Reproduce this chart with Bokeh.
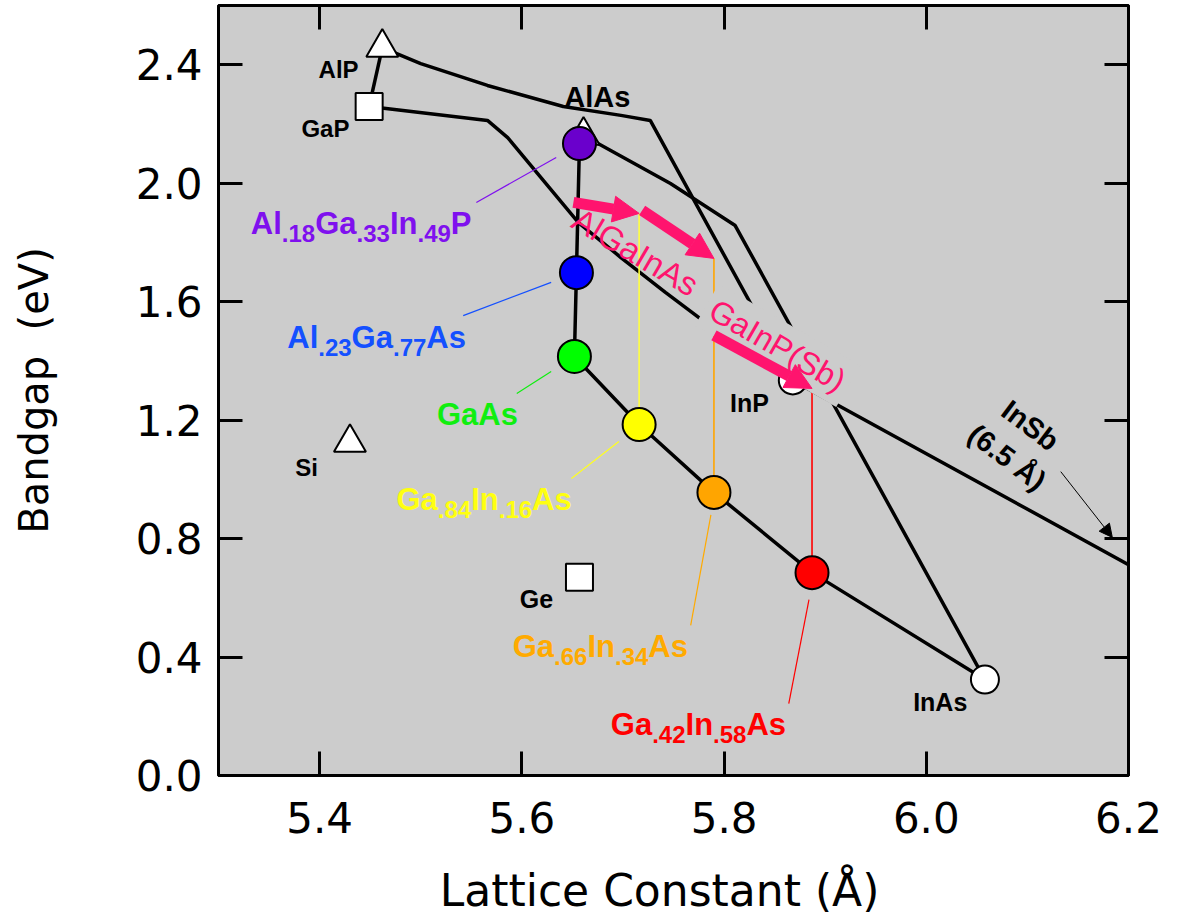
from bokeh.plotting import figure
from bokeh.models import (Range1d, LinearAxis, FixedTicker, PrintfTickFormatter,
                          ColumnDataSource, Arrow, NormalHead, Label)
from bokeh.core.properties import value
from bokeh.embed import file_html
from bokeh.resources import INLINE

# ---------------- data ----------------
# binary compounds: lattice constant (Å), bandgap (eV)
tri_names = ["AlP", "AlAs", "Si"]
tri_a = [5.462, 5.661, 5.430]
tri_eg = [2.458, 2.161, 1.124]
sq_names = ["GaP", "Ge"]
sq_a = [5.449, 5.657]
sq_eg = [2.259, 0.669]
circ_names = ["InP", "InAs"]
circ_a = [5.868, 6.058]
circ_eg = [1.334, 0.324]

# alloys (coloured circles)
alloy_a = [5.657, 5.654, 5.652, 5.716, 5.790, 5.887]
alloy_eg = [2.134, 1.698, 1.415, 1.185, 0.956, 0.685]

# boundary curves of the alloy systems
alp_gap_a = [5.462, 5.449]
alp_gap_eg = [2.458, 2.259]
alp_inp_a = [5.462, 5.500, 5.566, 5.641, 5.698, 5.727, 5.868]
alp_inp_eg = [2.458, 2.404, 2.330, 2.259, 2.229, 2.212, 1.334]
gap_insb_a = [5.449, 5.566, 5.586, 5.656, 5.698, 5.742, 5.787, 5.826, 5.868, 6.200]
gap_insb_eg = [2.259, 2.212, 2.154, 1.867, 1.749, 1.631, 1.516, 1.418, 1.334, 0.712]
alas_inas_a = [5.661, 5.747, 5.811, 6.058]
alas_inas_eg = [2.161, 1.999, 1.857, 0.324]
alas_gaas_a = [5.661, 5.657, 5.654, 5.652]
alas_gaas_eg = [2.161, 2.134, 1.698, 1.415]
gaas_inas_a = [5.652, 5.716, 5.790, 5.887, 6.058]
gaas_inas_eg = [1.415, 1.185, 0.956, 0.685, 0.324]

# lattice-matched top-cell bandgaps (vertical drop lines)
drop_a = [5.716, 5.790, 5.887]
drop_top = [1.898, 1.746, 1.307]

# pink arrows
arr_a0 = [5.651, 5.719, 5.790]
arr_eg0 = [1.935, 1.908, 1.486]
arr_a1 = [5.716, 5.790, 5.887]
arr_eg1 = [1.898, 1.746, 1.307]

# leader lines of the coloured labels
lead_a0 = [5.555, 5.542, 5.595, 5.649, 5.767, 5.864]
lead_eg0 = [1.935, 1.553, 1.290, 1.003, 0.507, 0.243]
lead_a1 = [5.634, 5.629, 5.629, 5.696, 5.787, 5.884]
lead_eg1 = [2.087, 1.665, 1.364, 1.128, 0.880, 0.594]

# coloured labels (parts: text, is_subscript)
alloy_labels = [
    [("Al", 0), (".18", 1), ("Ga", 0), (".33", 1), ("In", 0), (".49", 1), ("P", 0)],
    [("Al", 0), (".23", 1), ("Ga", 0), (".77", 1), ("As", 0)],
    [("GaAs", 0)],
    [("Ga", 0), (".84", 1), ("In", 0), (".16", 1), ("As", 0)],
    [("Ga", 0), (".66", 1), ("In", 0), (".34", 1), ("As", 0)],
    [("Ga", 0), (".42", 1), ("In", 0), (".58", 1), ("As", 0)],
]
alloy_label_a = [5.332, 5.368, 5.516, 5.476, 5.591, 5.688]
alloy_label_eg = [1.834, 1.449, 1.189, 0.902, 0.405, 0.142]

# black compound labels
cmp_labels = ["AlP", "GaP", "AlAs", "InP", "Si", "Ge", "InAs"]
cmp_label_a = [5.399, 5.382, 5.642, 5.806, 5.376, 5.598, 5.987]
cmp_label_eg = [2.354, 2.154, 2.259, 1.226, 1.010, 0.564, 0.219]

x_ticks = [5.4, 5.6, 5.8, 6.0, 6.2]
y_ticks = [0.0, 0.4, 0.8, 1.2, 1.6, 2.0, 2.4]

# ---------------- styles ----------------
alloy_fill = ["#6a00cc", "#0000ff", "#00ff00", "#ffff00", "#ffa500", "#ff0000"]
alloy_text = ["#7f10ee", "#1450ff", "#10ee10", "#ffff10", "#ffaa00", "#ff0000"]
lead_color = ["#7f10ee", "#1450ff", "#10ee10", "#ffff20", "#ffaa00", "#ff0000"]
drop_color = ["#ffff40", "#ffa500", "#ff0000"]
PINK = "#ff146e"
BG = "#cccccc"
FONT = "Liberation Sans"
AXFONT = "DejaVu Sans"
TXT_SHIFT = -9  # px, raise glyph labels onto their baselines
NB = "\u00a0"

p = figure(width=1183, height=918, x_range=Range1d(5.3, 6.2), y_range=Range1d(0, 2.6),
           output_backend="svg", toolbar_location=None,
           background_fill_color=BG, border_fill_color="white",
           min_border_left=218, min_border_right=55, min_border_top=5, min_border_bottom=143,
           x_axis_label="Lattice Constant (Å)" + NB + NB,
           y_axis_label="Bandgap" + NB + NB + "(eV)")
p.outline_line_color = "black"
p.outline_line_width = 3
p.grid.visible = False

for ax, ticks in ((p.xaxis[0], x_ticks), (p.yaxis[0], y_ticks)):
    ax.ticker = FixedTicker(ticks=ticks)
    ax.formatter = PrintfTickFormatter(format="%.1f")
    ax.axis_line_width = 3
    ax.major_tick_line_width = 3
    ax.major_tick_in = 24
    ax.major_tick_out = 0
    ax.minor_tick_in = 0
    ax.minor_tick_out = 0
    ax.major_label_text_font = AXFONT
    ax.major_label_text_font_size = "42px"
    ax.major_label_text_color = "black"
    ax.axis_label_text_font = AXFONT
    ax.axis_label_text_font_style = "normal"
    ax.axis_label_text_color = "black"
p.xaxis.axis_label_text_font_size = "44px"
p.yaxis.axis_label_text_font_size = "40px"
p.xaxis.major_label_standoff = 26
p.xaxis.axis_label_standoff = 29
p.yaxis.major_label_standoff = 16
p.yaxis.axis_label_standoff = 76

for side, ticks in (("right", y_ticks), ("above", x_ticks)):
    ax = LinearAxis(ticker=FixedTicker(ticks=ticks), axis_line_width=3,
                    major_tick_line_width=3, major_tick_in=24, major_tick_out=0,
                    minor_tick_in=0, minor_tick_out=0, major_label_standoff=0,
                    major_label_text_font_size="0px", major_label_text_color=None)
    p.add_layout(ax, side)

# curves
LW = 3.5
for xs, ys in ((alp_gap_a, alp_gap_eg), (alp_inp_a, alp_inp_eg), (gap_insb_a, gap_insb_eg),
               (alas_inas_a, alas_inas_eg), (alas_gaas_a, alas_gaas_eg),
               (gaas_inas_a, gaas_inas_eg)):
    p.line(xs, ys, line_color="black", line_width=LW)

# drop lines
p.segment(x0=drop_a, y0=[alloy_eg[3], alloy_eg[4], alloy_eg[5]], x1=drop_a, y1=drop_top,
          line_color=drop_color, line_width=1.6)

# leader lines
p.segment(x0=lead_a0, y0=lead_eg0, x1=lead_a1, y1=lead_eg1, line_color=lead_color, line_width=1.2)

# markers
p.scatter(tri_a, tri_eg, marker="triangle", size=32, fill_color="white",
          line_color="black", line_width=2)
p.scatter(sq_a, sq_eg, marker="square", size=27, fill_color="white",
          line_color="black", line_width=2)
p.scatter(circ_a, circ_eg, marker="circle", size=28, fill_color="white",
          line_color="black", line_width=2)
p.scatter(alloy_a, alloy_eg, marker="circle", size=33, fill_color=alloy_fill,
          line_color="black", line_width=2)

# coloured alloy labels with subscripts
ADV = {"A": 722, "l": 278, "G": 778, "a": 556, "I": 278, "n": 611, "P": 667, "s": 556, ".": 278}
MAIN_FS, SUB_FS, SUB_DROP = 31, 24, 10


def width(s, fs):
    return sum(ADV.get(c, 556) for c in s) / 1000.0 * fs


px, py, pt, pxo, pyo, pfs, pcol = [], [], [], [], [], [], []
for parts, lx, ly, col in zip(alloy_labels, alloy_label_a, alloy_label_eg, alloy_text):
    off = 0.0
    for s, sub in parts:
        fs = SUB_FS if sub else MAIN_FS
        px.append(lx); py.append(ly); pt.append(s)
        pxo.append(off); pyo.append((SUB_DROP if sub else 0) + TXT_SHIFT)
        pfs.append(f"{fs}px"); pcol.append(col)
        off += width(s, fs)
src = ColumnDataSource(dict(x=px, y=py, text=pt, xo=pxo, yo=pyo, fs=pfs, col=pcol))
p.text(x="x", y="y", text="text", x_offset="xo", y_offset="yo", text_font_size="fs",
       text_color="col", text_font=value(FONT), text_font_style="bold",
       text_align="left", text_baseline="alphabetic", source=src)

# black compound labels
cmp_fs = ["24px", "24px", "29px", "25px", "24px", "25px", "25px"]
p.text(x=cmp_label_a, y=cmp_label_eg, text=cmp_labels, text_font=value(FONT),
       text_font_style="bold", text_font_size=cmp_fs, text_color="black",
       text_align="left", text_baseline="alphabetic", y_offset=TXT_SHIFT)

# InSb note
p.text(x=[6.103, 6.080], y=[1.182, 1.074], text=["InSb", "(6.5 Å)"], angle=-37,
       angle_units="deg", text_font=value(FONT), text_font_style="bold",
       text_font_size="29px", text_color="black", text_align="center",
       text_baseline="middle")
p.add_layout(Arrow(end=NormalHead(size=13, fill_color="black", line_color="black"),
                   x_start=6.133, y_start=1.026, x_end=6.184, y_end=0.804,
                   line_color="black", line_width=1))

# pink annotations
p.add_layout(Label(x=5.783, y=1.590, text="GaInP(Sb)", angle=-30, angle_units="deg",
                   text_font=FONT, text_font_size="32px", text_color=PINK,
                   text_align="left", text_baseline="alphabetic",
                   background_fill_color=BG, padding=6))
p.add_layout(Label(x=5.653, y=1.887, text="AlGaInAs", angle=-30.5, angle_units="deg",
                   text_font=FONT, text_font_size="33px", text_color=PINK,
                   text_align="left", text_baseline="alphabetic"))
arr_src = ColumnDataSource(dict(x0=arr_a0, y0=arr_eg0, x1=arr_a1, y1=arr_eg1))
p.add_layout(Arrow(end=NormalHead(size=26, fill_color=PINK, line_color=PINK),
                   x_start="x0", y_start="y0", x_end="x1", y_end="y1",
                   line_color=PINK, line_width=11, source=arr_src))

open("out.html", "w").write(file_html(p, INLINE))
